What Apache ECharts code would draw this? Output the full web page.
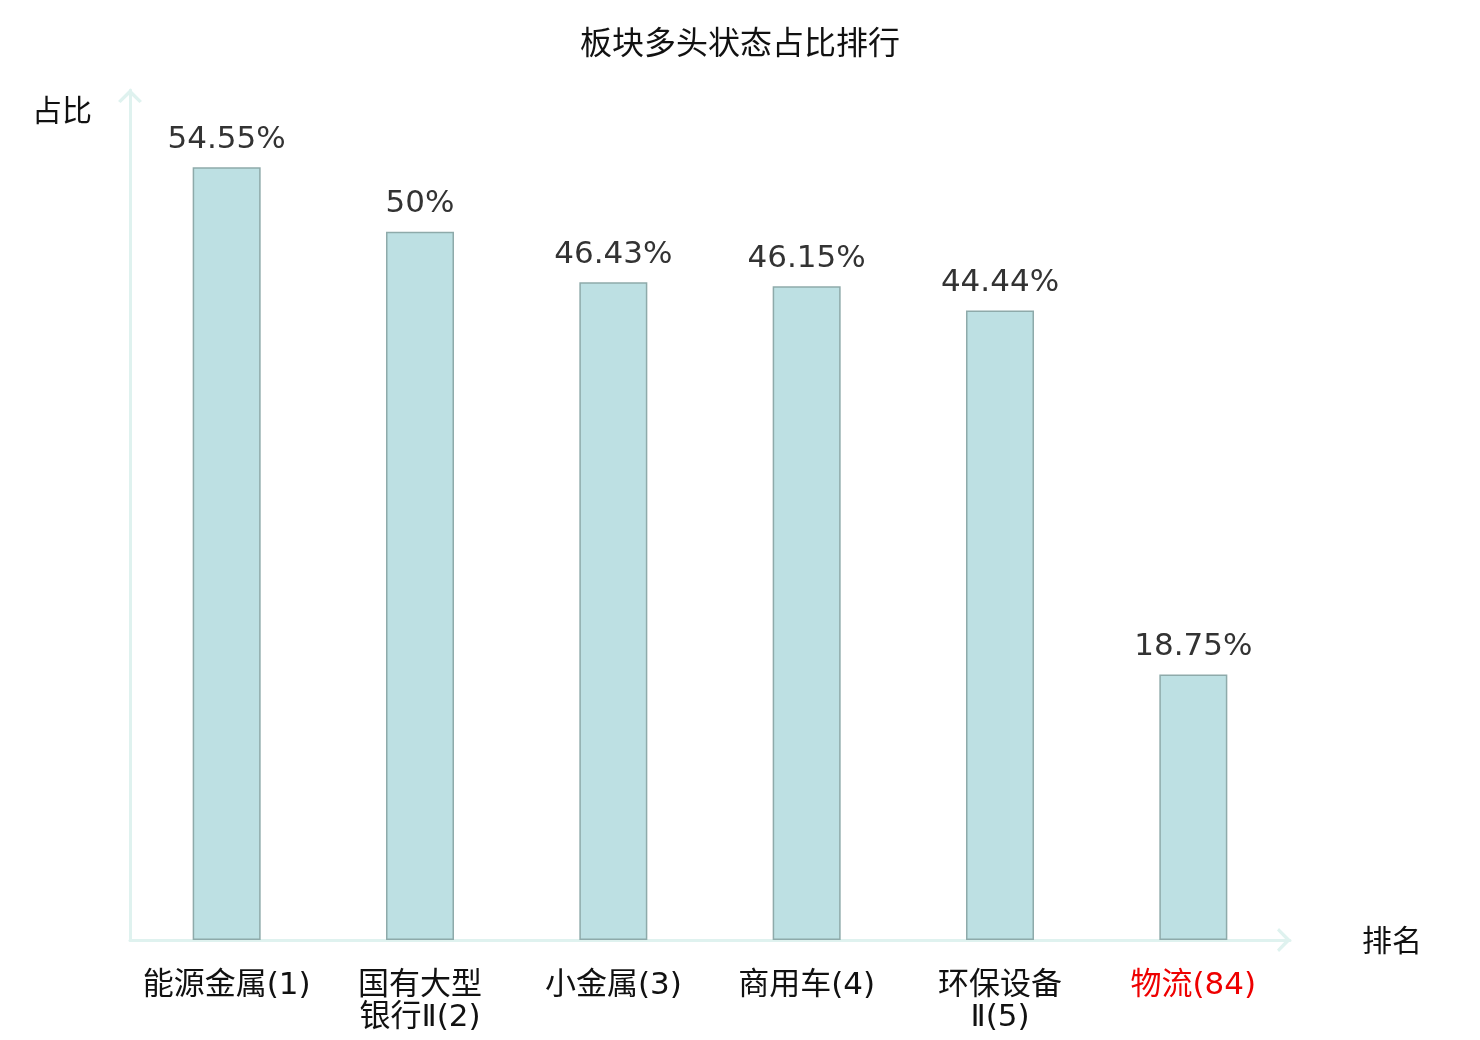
<!DOCTYPE html>
<html>
<head>
<meta charset="utf-8">
<title>板块多头状态占比排行</title>
<script src="https://cdn.jsdelivr.net/npm/echarts@6/dist/echarts.min.js"></script>
<style>
  html, body { margin: 0; padding: 0; background: #fff; }
  #chart { width: 1480px; height: 1040px; }
</style>
</head>
<body>
<div id="chart"></div>
<script>
// 板块名称与排名
const categories = ['能源金属(1)', '国有大型银行Ⅱ(2)', '小金属(3)', '商用车(4)', '环保设备Ⅱ(5)', '物流(84)'];
// 多头状态占比 (%)
const ratioValues = [54.55, 50, 46.43, 46.15, 44.44, 18.75];
// 需要标红的板块（当前关注板块）
const highlightIndex = 5;

// 空心箭头（朝上），用于坐标轴末端
const ARROW_PATH = 'path://M0 12 L12 0 L24 12 L21.4 14 L12 5 L2.6 14 Z';
const AXIS_COLOR = '#dff2ef';
const CJK_FONT = '"Noto Sans CJK SC", sans-serif';
// 轴标签：西文 DejaVu + 中文黑体
const LABEL_FONT = '"DejaVu Sans", "Noto Sans CJK SC", sans-serif';

const chart = echarts.init(document.getElementById('chart'));

const option = {
  title: {
    text: '板块多头状态占比排行',
    left: 'center',
    top: 21,
    textStyle: {
      fontSize: 32,
      fontWeight: 'normal',
      fontFamily: CJK_FONT,
      color: '#111'
    }
  },
  grid: {
    left: 130,
    right: 190,
    top: 90,
    bottom: 100
  },
  xAxis: {
    type: 'category',
    data: categories.map((name, i) => {
      if (i === highlightIndex) {
        return { value: name, textStyle: { color: '#ee0000' } };
      }
      return name;
    }),
    name: '排名',
    nameGap: 72,
    nameTextStyle: { fontSize: 30, color: '#111', fontFamily: CJK_FONT, padding: [6, 0, 0, 0] },
    axisLine: {
      lineStyle: { color: AXIS_COLOR, width: 3 },
      symbol: ['none', ARROW_PATH],
      symbolSize: [24, 14],
      symbolOffset: [0, -6]
    },
    axisTick: { show: false },
    axisLabel: {
      fontSize: 31,
      fontFamily: LABEL_FONT,
      color: '#111',
      margin: 30,
      lineHeight: 32,
      interval: 0,
      // 名称过长时，前四个字后换行
      formatter: function (val) {
        return val.length > 7 ? val.slice(0, 4) + '\n' + val.slice(4) : val;
      }
    }
  },
  yAxis: {
    type: 'value',
    min: 0,
    max: 60,
    name: '占比',
    nameGap: 0,
    nameTextStyle: {
      fontSize: 30,
      color: '#111',
      fontFamily: CJK_FONT,
      align: 'right',
      verticalAlign: 'top',
      padding: [5, 38, 0, 0]
    },
    axisLine: {
      show: true,
      lineStyle: { color: AXIS_COLOR, width: 3 },
      symbol: ['none', ARROW_PATH],
      symbolSize: [24, 14],
      symbolOffset: [0, -6]
    },
    axisTick: { show: false },
    axisLabel: { show: false },
    splitLine: { show: false }
  },
  series: [
    {
      name: '占比',
      type: 'bar',
      data: ratioValues,
      barWidth: 68,
      itemStyle: {
        color: '#bde0e3',
        borderColor: '#8eaaaa',
        borderWidth: 1.5
      },
      label: {
        show: true,
        position: 'top',
        distance: 12,
        fontSize: 31,
        fontFamily: '"DejaVu Sans", sans-serif',
        color: '#333',
        formatter: '{c}%'
      }
    }
  ]
};

chart.setOption(option);
</script>
</body>
</html>
